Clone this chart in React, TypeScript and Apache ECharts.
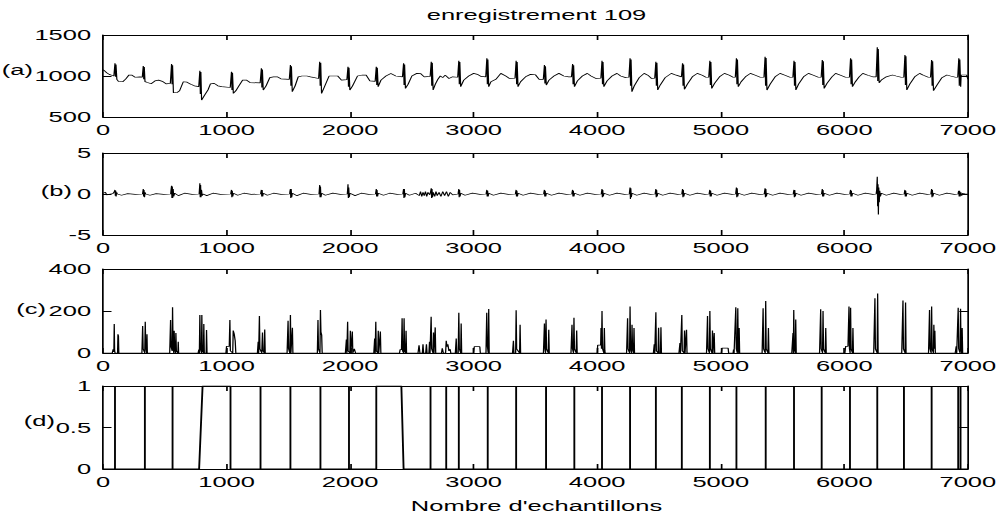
import React, { useEffect, useRef } from "react";
import * as echarts from "echarts";

// The figure is drawn narrow and stretched horizontally, like the exported MATLAB figure.
const SX = 1.7;
const FIG_W = 1002;
const FIG_H = 518;

const TITLE = "enregistrement 109";
const X_LABEL = "Nombre d'echantillons";
const PANEL_TAGS = ["(a)", "(b)", "(c)", "(d)"];

const X_MIN = 0;
const X_MAX = 7000;
const X_STEP = 1000;

// [min, max, interval] for each panel's value axis
const Y_RANGES = [
  [500, 1500, 500],
  [-5, 5, 5],
  [0, 400, 200],
  [0, 1, 0.5],
];

// (a) ECG record, one row per beat: [sample, amplitude]
const ecgBeats: number[][][] = [
  [[0, 1075], [15, 1060], [30, 1040], [50, 1020], [70, 1010], [88, 1000]],
  [[97, 1154], [101, 990], [105, 1140], [112, 959], [125, 935], [160, 930], [185, 965], [210, 1012], [235, 1010], [260, 985], [300, 990], [318, 985]],
  [[326, 1122], [330, 960], [334, 1110], [340, 931], [360, 920], [390, 905], [420, 940], [450, 950], [480, 935], [510, 905], [545, 910]],
  [[555, 1146], [559, 900], [563, 1130], [570, 796], [600, 800], [620, 820], [650, 930], [680, 925], [710, 900], [740, 880], [775, 870]],
  [[784, 1065], [788, 780], [792, 1050], [798, 707], [820, 760], [850, 830], [870, 905], [900, 910], [930, 880], [960, 870], [1030, 860]],
  [[1040, 1053], [1044, 830], [1048, 1040], [1055, 788], [1075, 820], [1100, 880], [1130, 950], [1160, 951], [1190, 920], [1272, 915]],
  [[1282, 1093], [1286, 860], [1290, 1080], [1297, 829], [1320, 880], [1350, 980], [1380, 990], [1410, 990], [1440, 965], [1508, 960]],
  [[1517, 1134], [1521, 880], [1525, 1120], [1532, 809], [1555, 880], [1580, 990], [1610, 1000], [1650, 1000], [1680, 990], [1745, 970]],
  [[1754, 1175], [1758, 880], [1762, 1160], [1769, 788], [1790, 860], [1830, 1000], [1860, 1000], [1900, 1000], [1930, 950], [1974, 955]],
  [[1983, 1114], [1987, 870], [1991, 1100], [1998, 829], [2020, 880], [2060, 1000], [2100, 1012], [2130, 1010], [2160, 940], [2203, 935]],
  [[2212, 1114], [2216, 890], [2220, 1100], [2227, 870], [2250, 950], [2290, 1000], [2330, 1030], [2370, 1000], [2424, 990]],
  [[2433, 1154], [2437, 890], [2441, 1140], [2448, 849], [2470, 900], [2500, 1000], [2540, 1032], [2570, 1030], [2600, 990], [2648, 995]],
  [[2657, 1175], [2661, 880], [2665, 1160], [2672, 829], [2690, 900], [2710, 960], [2730, 1000], [2750, 980], [2770, 1010], [2800, 970], [2830, 990], [2871, 985]],
  [[2880, 1187], [2884, 900], [2888, 1170], [2895, 870], [2920, 950], [2960, 1000], [3000, 1032], [3030, 1020], [3060, 995], [3098, 990]],
  [[3107, 1215], [3111, 900], [3115, 1200], [3122, 870], [3140, 930], [3180, 960], [3220, 1032], [3260, 1000], [3290, 970], [3335, 975]],
  [[3344, 1187], [3348, 900], [3352, 1170], [3359, 870], [3380, 930], [3420, 990], [3460, 1020], [3500, 1015], [3530, 960], [3564, 960]],
  [[3573, 1134], [3577, 910], [3581, 1120], [3588, 890], [3610, 950], [3650, 1000], [3690, 1032], [3730, 1000], [3770, 990], [3792, 990]],
  [[3801, 1146], [3805, 900], [3809, 1130], [3816, 870], [3840, 940], [3880, 1000], [3920, 1032], [3950, 1000], [3990, 970], [4030, 975]],
  [[4039, 1187], [4043, 900], [4047, 1170], [4054, 870], [4080, 940], [4120, 1000], [4160, 1032], [4190, 1000], [4230, 980], [4257, 985]],
  [[4266, 1215], [4270, 880], [4274, 1200], [4281, 809], [4300, 880], [4340, 980], [4380, 1032], [4410, 1010], [4440, 970], [4466, 975]],
  [[4475, 1175], [4479, 880], [4483, 1160], [4490, 829], [4510, 890], [4550, 980], [4600, 1032], [4640, 1010], [4682, 990]],
  [[4691, 1154], [4695, 880], [4699, 1140], [4706, 837], [4730, 900], [4770, 990], [4810, 1032], [4850, 1010], [4880, 985], [4903, 985]],
  [[4912, 1187], [4916, 890], [4920, 1170], [4927, 849], [4950, 910], [4990, 990], [5030, 1032], [5070, 1010], [5100, 985], [5118, 985]],
  [[5127, 1215], [5131, 900], [5135, 1200], [5142, 870], [5165, 930], [5200, 990], [5240, 1032], [5280, 1010], [5320, 985], [5350, 985]],
  [[5359, 1236], [5363, 880], [5367, 1220], [5374, 829], [5400, 900], [5440, 990], [5480, 1032], [5520, 1010], [5560, 985], [5584, 985]],
  [[5593, 1187], [5597, 880], [5601, 1170], [5608, 829], [5630, 900], [5670, 990], [5710, 1032], [5750, 1010], [5790, 985], [5813, 985]],
  [[5822, 1195], [5826, 890], [5830, 1180], [5837, 849], [5860, 910], [5900, 990], [5930, 1032], [5970, 1010], [6010, 985], [6042, 985]],
  [[6051, 1215], [6055, 900], [6059, 1200], [6066, 870], [6090, 930], [6120, 990], [6150, 1032], [6190, 1010], [6230, 990], [6258, 990]],
  [[6267, 1350], [6271, 940], [6275, 1330], [6282, 918], [6300, 950], [6340, 990], [6390, 1012], [6420, 1000], [6460, 985], [6482, 985]],
  [[6491, 1256], [6495, 890], [6499, 1240], [6506, 829], [6530, 900], [6570, 990], [6610, 1032], [6640, 1010], [6680, 985], [6698, 985]],
  [[6707, 1195], [6711, 880], [6715, 1180], [6722, 821], [6750, 890], [6790, 980], [6830, 1012], [6860, 1000], [6900, 985], [6918, 985]],
  [[6927, 1215], [6931, 880], [6935, 1200], [6942, 870], [6946, 1012], [6990, 1012], [7000, 960]],
];

// (b) filtered / differentiated signal
const derivBeats: number[][][] = [
  [[0, 0.1], [20, 0.2], [30, -0.1], [60, 0], [80, 0.05]],
  [[92, 0.3], [97, 0.5], [100, -0.2], [103, 0.4], [106, -0.3], [110, 0.2], [116, 0], [150, -0.15], [200, 0.05], [260, -0.05], [320, 0]],
  [[322, 0.2], [326, 0.6], [329, -0.3], [332, 0.5], [336, -0.4], [340, 0.2], [346, 0], [380, -0.15], [430, 0.05], [490, -0.05], [548, 0]],
  [[550, 0.4], [555, 1.0], [558, -0.5], [561, 0.9], [564, -0.5], [568, 0.6], [572, -0.3], [580, 0.1], [610, -0.2], [660, 0.1], [720, -0.05], [778, 0]],
  [[780, 0.4], [784, 1.3], [787, -0.4], [790, 1.1], [793, -0.4], [797, 0.5], [803, -0.2], [810, 0], [840, -0.2], [890, 0.1], [950, -0.05], [1034, 0]],
  [[1036, 0.2], [1040, 0.5], [1043, -0.4], [1046, 0.4], [1050, -0.3], [1056, 0.1], [1090, -0.15], [1140, 0.1], [1200, -0.05], [1276, 0]],
  [[1278, 0.2], [1282, 0.5], [1285, -0.3], [1288, 0.5], [1292, -0.3], [1298, 0.1], [1330, -0.15], [1380, 0.1], [1440, -0.05], [1511, 0]],
  [[1513, 0.3], [1517, 0.6], [1520, -0.5], [1523, 0.6], [1527, -0.4], [1533, 0.1], [1570, -0.2], [1620, 0.1], [1680, -0.05], [1748, 0]],
  [[1750, 0.3], [1754, 1.1], [1757, -0.4], [1760, 0.9], [1764, -0.4], [1770, 0.1], [1800, -0.15], [1860, 0.1], [1920, -0.05], [1977, 0]],
  [[1979, 0.3], [1983, 1.2], [1986, -0.5], [1989, 0.8], [1993, -0.4], [1999, 0.1], [2040, -0.2], [2090, 0.1], [2150, -0.05], [2206, 0]],
  [[2208, 0.2], [2212, 0.6], [2215, -0.3], [2218, 0.5], [2222, -0.3], [2228, 0.1], [2270, -0.15], [2320, 0.1], [2380, -0.05], [2427, 0]],
  [[2429, 0.2], [2433, 0.6], [2436, -0.5], [2439, 0.6], [2443, -0.4], [2449, 0.1], [2480, -0.15], [2530, 0.1], [2560, -0.2], [2570, 0.3], [2580, -0.3], [2590, 0.2], [2600, -0.2], [2610, 0.3], [2620, -0.3], [2630, 0.2], [2645, -0.1]],
  [[2652, 0.3], [2657, 0.7], [2660, -0.5], [2663, 0.6], [2667, -0.4], [2673, 0.2], [2685, -0.3], [2695, 0.3], [2705, -0.2], [2720, 0.2], [2735, -0.3], [2750, 0.3], [2765, -0.2], [2780, 0.3], [2795, -0.3], [2810, 0.2], [2830, -0.1], [2874, 0]],
  [[2876, 0.2], [2880, 0.6], [2883, -0.4], [2886, 0.5], [2890, -0.3], [2896, 0.1], [2930, -0.15], [2990, 0.1], [3050, -0.05], [3101, 0]],
  [[3103, 0.2], [3107, 0.5], [3110, -0.3], [3113, 0.4], [3117, -0.3], [3123, 0.1], [3160, -0.15], [3220, 0.1], [3280, -0.05], [3338, 0]],
  [[3340, 0.2], [3344, 0.5], [3347, -0.3], [3350, 0.4], [3354, -0.3], [3360, 0.1], [3400, -0.15], [3460, 0.1], [3520, -0.05], [3567, 0]],
  [[3569, 0.2], [3573, 0.5], [3576, -0.3], [3579, 0.4], [3583, -0.3], [3589, 0.1], [3630, -0.15], [3690, 0.1], [3750, -0.05], [3795, 0]],
  [[3797, 0.2], [3801, 0.5], [3804, -0.3], [3807, 0.4], [3811, -0.3], [3817, 0.1], [3860, -0.15], [3920, 0.1], [3980, -0.05], [4033, 0]],
  [[4035, 0.2], [4039, 0.6], [4042, -0.4], [4045, 0.5], [4049, -0.3], [4055, 0.1], [4100, -0.15], [4160, 0.1], [4220, -0.05], [4260, 0]],
  [[4262, 0.3], [4266, 0.8], [4269, -0.6], [4272, 0.7], [4276, -0.4], [4282, 0.1], [4320, -0.15], [4380, 0.1], [4430, -0.05], [4469, 0]],
  [[4471, 0.2], [4475, 0.6], [4478, -0.4], [4481, 0.5], [4485, -0.3], [4491, 0.1], [4530, -0.15], [4590, 0.1], [4650, -0.05], [4685, 0]],
  [[4687, 0.2], [4691, 0.6], [4694, -0.4], [4697, 0.5], [4701, -0.3], [4707, 0.1], [4750, -0.15], [4810, 0.1], [4870, -0.05], [4906, 0]],
  [[4908, 0.2], [4912, 0.5], [4915, -0.3], [4918, 0.4], [4922, -0.3], [4928, 0.1], [4970, -0.15], [5030, 0.1], [5090, -0.05], [5121, 0]],
  [[5123, 0.3], [5127, 0.8], [5130, -0.4], [5133, 0.7], [5137, -0.3], [5143, 0.1], [5190, -0.15], [5250, 0.1], [5310, -0.05], [5353, 0]],
  [[5355, 0.3], [5359, 0.7], [5362, -0.4], [5365, 0.6], [5369, -0.3], [5375, 0.1], [5420, -0.15], [5480, 0.1], [5540, -0.05], [5587, 0]],
  [[5589, 0.2], [5593, 0.5], [5596, -0.4], [5599, 0.5], [5603, -0.3], [5609, 0.1], [5650, -0.15], [5710, 0.1], [5770, -0.05], [5816, 0]],
  [[5818, 0.2], [5822, 0.6], [5825, -0.3], [5828, 0.5], [5832, -0.3], [5838, 0.1], [5880, -0.15], [5940, 0.1], [6000, -0.05], [6045, 0]],
  [[6047, 0.2], [6051, 0.5], [6054, -0.3], [6057, 0.4], [6061, -0.3], [6067, 0.1], [6110, -0.15], [6170, 0.1], [6230, -0.05], [6258, 0]],
  [[6262, 0.5], [6265, 1.5], [6267, 2.1], [6270, -1.5], [6273, 1.2], [6276, -2.5], [6279, 0.8], [6283, -1.0], [6287, 0.4], [6292, -0.3], [6300, 0.1], [6340, -0.15], [6400, 0.1], [6450, -0.05], [6485, 0]],
  [[6487, 0.2], [6491, 0.5], [6494, -0.3], [6497, 0.4], [6501, -0.3], [6507, 0.1], [6550, -0.15], [6610, 0.1], [6670, -0.05], [6701, 0]],
  [[6703, 0.2], [6707, 0.6], [6710, -0.4], [6713, 0.5], [6717, -0.3], [6723, 0.1], [6770, -0.15], [6830, 0.1], [6890, -0.05], [6921, 0]],
  [[6923, 0.2], [6927, 0.4], [6930, -0.3], [6933, 0.4], [6937, -0.3], [6943, 0.2], [6950, -0.2], [6960, 0.1], [6980, 0], [7000, 0]],
];

// (c) squared / integrated signal bursts around each beat
const energyBursts: number[][][] = [
  [[0, 0], [75, 0], [82, 18], [88, 5], [91, 138], [94, 10], [98, 0], [118, 0], [121, 89], [125, 80], [128, 0]],
  [[315, 0], [321, 128], [325, 20], [338, 0], [342, 149], [346, 30], [353, 0], [356, 89], [359, 0]],
  [[540, 0], [547, 157], [551, 30], [560, 10], [563, 218], [567, 40], [573, 0], [576, 106], [580, 20], [587, 0], [590, 95], [594, 10], [606, 0], [609, 53], [612, 0]],
  [[770, 0], [776, 16], [780, 0], [784, 181], [788, 20], [797, 0], [800, 181], [804, 10], [813, 0], [816, 138], [820, 0], [835, 0], [838, 109], [842, 0]],
  [[995, 0], [1000, 32], [1022, 32], [1027, 157], [1031, 10], [1050, 0], [1054, 107], [1062, 90], [1070, 58], [1075, 0]],
  [[1250, 0], [1256, 53], [1260, 0], [1266, 176], [1270, 20], [1285, 0], [1291, 98], [1295, 10], [1305, 0], [1309, 112], [1313, 0]],
  [[1490, 0], [1498, 154], [1502, 20], [1512, 0], [1517, 181], [1521, 0], [1530, 0], [1533, 120], [1537, 0]],
  [[1735, 0], [1740, 157], [1744, 20], [1756, 0], [1760, 205], [1764, 100], [1770, 85], [1774, 0]],
  [[1962, 0], [1970, 64], [1974, 0], [1980, 149], [1984, 10], [1998, 0], [2002, 106], [2006, 0], [2014, 0], [2018, 102], [2022, 0], [2030, 0], [2034, 20], [2040, 20], [2044, 0]],
  [[2192, 0], [2199, 69], [2203, 0], [2208, 149], [2212, 10], [2224, 0], [2228, 106], [2232, 0], [2241, 0], [2245, 102], [2249, 0]],
  [[2400, 0], [2405, 16], [2416, 16], [2421, 165], [2425, 10], [2433, 0], [2437, 165], [2441, 10], [2449, 0], [2453, 106], [2457, 0]],
  [[2550, 0], [2558, 37], [2565, 0], [2585, 0], [2590, 42], [2595, 0], [2612, 0], [2618, 42], [2623, 0], [2638, 0], [2643, 53], [2647, 0], [2652, 0], [2656, 173], [2660, 20], [2671, 0], [2675, 98], [2679, 0], [2685, 0], [2689, 122], [2693, 0]],
  [[2740, 0], [2746, 22], [2755, 0], [2773, 0], [2778, 58], [2784, 30], [2791, 42], [2800, 10], [2810, 18], [2815, 0]],
  [[2852, 0], [2859, 69], [2863, 0], [2875, 0], [2880, 192], [2884, 20], [2895, 0], [2899, 141], [2903, 0]],
  [[3000, 0], [3005, 30], [3050, 30], [3054, 0], [3100, 0], [3106, 192], [3110, 40], [3118, 0], [3122, 210], [3126, 0]],
  [[3315, 0], [3322, 58], [3326, 0], [3340, 0], [3344, 203], [3348, 20], [3372, 0], [3376, 134], [3380, 0]],
  [[3565, 0], [3573, 141], [3577, 20], [3582, 0], [3586, 160], [3590, 20], [3604, 0], [3608, 111], [3612, 0]],
  [[3788, 0], [3796, 134], [3800, 20], [3808, 0], [3812, 168], [3816, 20], [3830, 0], [3834, 107], [3838, 0]],
  [[4000, 0], [4004, 37], [4028, 37], [4031, 119], [4035, 20], [4039, 200], [4043, 20], [4054, 0], [4058, 119], [4062, 10], [4065, 0]],
  [[4238, 0], [4246, 165], [4250, 20], [4262, 0], [4266, 221], [4270, 20], [4278, 0], [4282, 134], [4286, 20], [4294, 0], [4298, 119], [4302, 0]],
  [[4455, 0], [4462, 42], [4466, 0], [4471, 0], [4475, 194], [4479, 10], [4493, 0], [4497, 120], [4501, 0], [4512, 0], [4516, 123], [4520, 0]],
  [[4662, 0], [4670, 48], [4674, 0], [4681, 0], [4685, 181], [4689, 10], [4703, 0], [4707, 107], [4711, 0], [4719, 0], [4723, 111], [4727, 0]],
  [[4885, 0], [4893, 176], [4897, 20], [4908, 0], [4912, 200], [4916, 20], [4929, 0], [4933, 107], [4937, 0], [4943, 0], [4947, 95], [4951, 0]],
  [[5005, 0], [5009, 23], [5060, 23], [5064, 0]],
  [[5100, 0], [5104, 16], [5108, 0], [5117, 0], [5122, 218], [5126, 20], [5134, 0], [5138, 213], [5142, 20], [5146, 0], [5149, 119], [5153, 0]],
  [[5335, 0], [5343, 213], [5347, 20], [5360, 0], [5364, 248], [5368, 20], [5382, 0], [5386, 119], [5390, 0]],
  [[5575, 0], [5585, 95], [5588, 0], [5591, 205], [5595, 20], [5603, 0], [5607, 160], [5611, 0]],
  [[5800, 0], [5809, 208], [5813, 20], [5824, 0], [5828, 200], [5832, 20], [5846, 0], [5850, 119], [5854, 0]],
  [[6005, 0], [6011, 32], [6030, 32], [6038, 221], [6042, 20], [6047, 0], [6051, 216], [6055, 20], [6066, 0], [6070, 119], [6074, 0]],
  [[6238, 0], [6248, 261], [6252, 20], [6266, 0], [6270, 283], [6274, 0]],
  [[6465, 0], [6475, 250], [6479, 20], [6492, 0], [6496, 240], [6500, 0]],
  [[6682, 0], [6690, 205], [6694, 20], [6703, 0], [6707, 221], [6711, 20], [6721, 0], [6725, 134], [6729, 20], [6733, 106], [6737, 0]],
  [[6898, 0], [6906, 32], [6910, 0], [6918, 0], [6922, 216], [6926, 20], [6937, 0], [6941, 211], [6945, 20], [6950, 0], [6954, 119], [6958, 0], [7000, 0]],
];

// (d) detected beat markers
const detectPoints: number[][] = [
  [0, 0], [97, 0], [97, 1], [97, 0], [339, 0], [339, 1], [339, 0], [563, 0], [563, 1], [563, 0],
  [778, 0], [806, 1], [1032, 1], [1032, 0], [1275, 0], [1275, 1], [1275, 0], [1517, 0], [1517, 1], [1517, 0],
  [1760, 0], [1760, 1], [1760, 0], [1991, 0], [1991, 1], [1991, 0], [2212, 0], [2212, 1], [2415, 1], [2433, 0],
  [2651, 0], [2651, 1], [2651, 0], [2778, 0], [2778, 1], [2778, 0], [2880, 0], [2880, 1], [2880, 0],
  [3114, 0], [3114, 1], [3114, 0], [3344, 0], [3344, 1], [3344, 0], [3586, 0], [3586, 1], [3586, 0],
  [3815, 0], [3815, 1], [3815, 0], [4039, 0], [4039, 1], [4039, 0], [4266, 0], [4266, 1], [4266, 0],
  [4475, 0], [4475, 1], [4475, 0], [4685, 0], [4685, 1], [4685, 0], [4912, 0], [4912, 1], [4912, 0],
  [5127, 0], [5127, 1], [5127, 0], [5364, 0], [5364, 1], [5364, 0], [5593, 0], [5593, 1], [5593, 0],
  [5817, 0], [5817, 1], [5817, 0], [6046, 0], [6046, 1], [6046, 0], [6267, 0], [6267, 1], [6267, 0],
  [6483, 0], [6483, 1], [6483, 0], [6707, 0], [6707, 1], [6707, 0], [6922, 0], [6922, 1], [6922, 0],
  [6941, 0], [6941, 1], [6941, 0], [7000, 0],
];

const ecgSignal = ecgBeats.flat();
const derivSignal = derivBeats.flat();
const energySignal = energyBursts.flat();

// Layout, in figure pixels
const PLOT_LEFT = 103;
const PLOT_RIGHT = 970;
const PANEL_TOP = [35, 153, 269, 386];
const PANEL_BOTTOM = [117, 235, 353, 469];
// tag anchors: right edge x, centre y
const TAG_POS = [
  [33, 70],
  [72, 191],
  [46, 309],
  [55, 421],
];

const FONT = "Liberation Sans, Arial, Helvetica, sans-serif";
const FS = 15;

const sx = (px: number) => px / SX;
const plain = (v: number) => String(v);

function buildOption() {
  const signals = [ecgSignal, derivSignal, energySignal, detectPoints];
  const widths = [0.7, 0.7, 0.75, 1.1];

  const frameLine = { show: true, onZero: false, lineStyle: { color: "#000", width: 1 } };
  const tick = { show: true, inside: true, length: 5, lineStyle: { color: "#000", width: 1 } };

  const grid = PANEL_TOP.map((t, i) => ({
    left: sx(PLOT_LEFT),
    width: sx(PLOT_RIGHT - PLOT_LEFT),
    top: t,
    height: PANEL_BOTTOM[i] - t,
    containLabel: false,
  }));

  const xAxis: any[] = [];
  const yAxis: any[] = [];
  PANEL_TOP.forEach((_, i) => {
    const xBase = {
      gridIndex: i,
      type: "value",
      min: X_MIN,
      max: X_MAX,
      interval: X_STEP,
      axisLine: frameLine,
      axisTick: tick,
      splitLine: { show: false },
    };
    xAxis.push({
      ...xBase,
      position: "bottom",
      axisLabel: {
        color: "#000",
        fontSize: FS,
        fontFamily: FONT,
        margin: 5,
        showMinLabel: true,
        showMaxLabel: true,
        formatter: plain,
      },
    });
    xAxis.push({ ...xBase, position: "top", axisLabel: { show: false } });

    const [mn, mx, iv] = Y_RANGES[i];
    const yBase = {
      gridIndex: i,
      type: "value",
      min: mn,
      max: mx,
      interval: iv,
      axisLine: frameLine,
      axisTick: tick,
      splitLine: { show: false },
    };
    yAxis.push({
      ...yBase,
      position: "left",
      axisLabel: {
        color: "#000",
        fontSize: FS,
        fontFamily: FONT,
        margin: 7,
        showMinLabel: true,
        showMaxLabel: true,
        formatter: plain,
      },
    });
    yAxis.push({ ...yBase, position: "right", axisLabel: { show: false } });
  });

  const series = signals.map((data, i) => ({
    type: "line",
    xAxisIndex: 2 * i,
    yAxisIndex: 2 * i,
    data,
    showSymbol: false,
    symbol: "none",
    silent: true,
    clip: true,
    lineStyle: { color: "#000", width: widths[i] },
  }));

  const textStyle = (text: string, align: string, size = FS) => ({
    text,
    fill: "#000",
    fontSize: size,
    fontFamily: FONT,
    textAlign: align,
    align,
    textVerticalAlign: "middle",
    verticalAlign: "middle",
  });

  const graphic: any[] = [
    { type: "text", x: sx((PLOT_LEFT + PLOT_RIGHT) / 2), y: 15, style: textStyle(TITLE, "center") },
    { type: "text", x: sx((PLOT_LEFT + PLOT_RIGHT) / 2), y: 506, style: textStyle(X_LABEL, "center") },
    ...PANEL_TAGS.map((tag, i) => ({
      type: "text",
      x: sx(TAG_POS[i][0]),
      y: TAG_POS[i][1],
      style: textStyle(tag, "right"),
    })),
  ];

  return {
    animation: false,
    backgroundColor: "#fff",
    grid,
    xAxis,
    yAxis,
    series,
    graphic,
  };
}

export default function App() {
  const ref = useRef<HTMLDivElement>(null);

  useEffect(() => {
    if (!ref.current) return;
    const chart = echarts.init(ref.current, null, { renderer: "svg" });
    chart.setOption(buildOption() as any);
    return () => chart.dispose();
  }, []);

  return (
    <div
      style={{
        position: "fixed",
        left: 0,
        top: 0,
        width: FIG_W,
        height: FIG_H,
        overflow: "hidden",
        background: "#fff",
      }}
    >
      <div
        ref={ref}
        style={{
          width: FIG_W / SX,
          height: FIG_H,
          transform: `scaleX(${SX})`,
          transformOrigin: "0 0",
        }}
      />
    </div>
  );
}
